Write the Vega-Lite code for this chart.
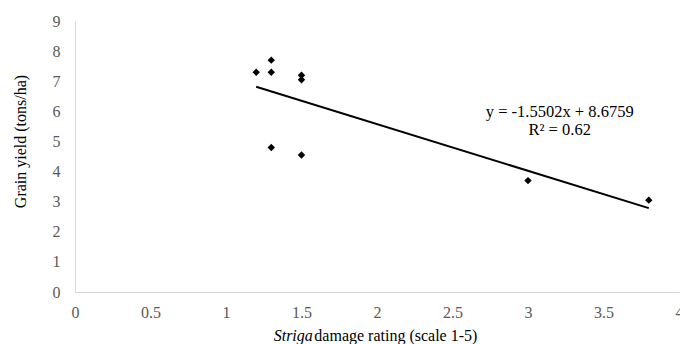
{
  "$schema": "https://vega.github.io/schema/vega-lite/v6.json",
  "width": 604,
  "height": 271,
  "autosize": {"type": "none"},
  "padding": {"left": 75, "top": 21, "right": 1, "bottom": 52},
  "background": "white",
  "config": {
    "view": {"stroke": null},
    "font": "Liberation Serif",
    "axis": {
      "labelFont": "Liberation Serif",
      "titleFont": "Liberation Serif",
      "labelFontSize": 16,
      "labelColor": "#595959",
      "domainColor": "#d9d9d9",
      "domainWidth": 1,
      "ticks": false,
      "grid": false,
      "titleFontWeight": "normal",
      "titleColor": "#000000",
      "titleFontSize": 16
    }
  },
  "datasets": {
    "points": [
      {"x": 1.2, "y": 7.3},
      {"x": 1.3, "y": 7.7},
      {"x": 1.3, "y": 7.3},
      {"x": 1.3, "y": 4.8},
      {"x": 1.5, "y": 7.2},
      {"x": 1.5, "y": 7.05},
      {"x": 1.5, "y": 4.55},
      {"x": 3.0, "y": 3.7},
      {"x": 3.8, "y": 3.05}
    ],
    "trend": [
      {"x": 1.2, "y": 6.8157},
      {"x": 3.8, "y": 2.7851}
    ],
    "eq": [
      {"x": 3.21, "y": 5.97, "t": "y = -1.5502x + 8.6759"},
      {"x": 3.21, "y": 5.37, "t": "R² = 0.62"}
    ],
    "xt1": [
      {"x": 1.575, "y": -1.45, "t": "Striga"}
    ],
    "xt2": [
      {"x": 1.585, "y": -1.45, "t": "damage rating (scale 1-5)"}
    ]
  },
  "encoding": {
    "x": {
      "field": "x", "type": "quantitative",
      "scale": {"domain": [0, 4], "nice": false},
      "axis": {"values": [0, 0.5, 1, 1.5, 2, 2.5, 3, 3.5, 4], "format": "~g", "labelPadding": 12, "title": null, "labelFlush": false, "labelOverlap": false}
    },
    "y": {
      "field": "y", "type": "quantitative",
      "scale": {"domain": [0, 9], "nice": false},
      "axis": {"values": [0, 1, 2, 3, 4, 5, 6, 7, 8, 9], "format": "~g", "labelPadding": 15, "labelOverlap": false, "labelBound": false, "title": "Grain yield (tons/ha)", "titleX": -47, "titleY": 120, "titleAngle": -90, "titleAlign": "center", "titleBaseline": "bottom", "labelFlush": false}
    }
  },
  "layer": [
    {
      "data": {"name": "points"},
      "mark": {"type": "point", "shape": "diamond", "filled": true, "color": "#000000", "size": 55, "opacity": 1}
    },
    {
      "data": {"name": "trend"},
      "mark": {"type": "line", "color": "#000000", "strokeWidth": 2}
    },
    {
      "data": {"name": "eq"},
      "mark": {"type": "text", "font": "Liberation Serif", "fontSize": 16.5, "color": "#000000", "align": "center", "baseline": "middle"},
      "encoding": {"text": {"field": "t"}}
    },
    {
      "data": {"name": "xt1"},
      "mark": {"type": "text", "font": "Liberation Serif", "fontSize": 16, "fontStyle": "italic", "color": "#000000", "align": "right", "baseline": "middle"},
      "encoding": {"text": {"field": "t"}}
    },
    {
      "data": {"name": "xt2"},
      "mark": {"type": "text", "font": "Liberation Serif", "fontSize": 16, "color": "#000000", "align": "left", "baseline": "middle"},
      "encoding": {"text": {"field": "t"}}
    }
  ]
}
